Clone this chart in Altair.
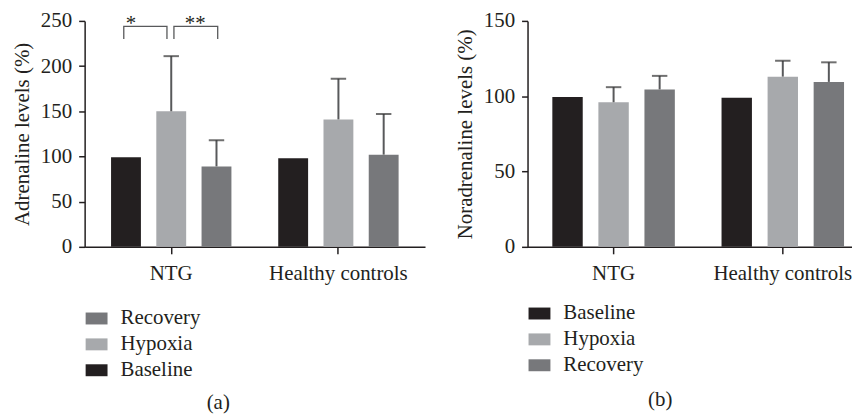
import altair as alt
import pandas as pd

# ---------------- data ----------------
groups = ["NTG", "Healthy controls"]
conditions = ["Baseline", "Hypoxia", "Recovery"]

row_group = ["NTG", "NTG", "NTG", "Healthy controls", "Healthy controls", "Healthy controls"]
row_cond = ["Baseline", "Hypoxia", "Recovery", "Baseline", "Hypoxia", "Recovery"]

adr_mean = [99, 150, 89, 98, 141, 102]
adr_err = [0, 61, 29, 0, 45, 45]

nor_mean = [99.5, 96, 104.5, 99, 113, 109.5]
nor_err = [0, 10, 9, 0, 10.5, 13]

# significance brackets (left panel)
br_id = ["b1", "b1", "b1", "b1", "b2", "b2", "b2", "b2"]
br_cond = ["Baseline", "Baseline", "Hypoxia", "Hypoxia", "Hypoxia", "Hypoxia", "Recovery", "Recovery"]
br_y = [230, 244, 244, 230, 230, 244, 244, 230]
br_order = [0, 1, 2, 3, 0, 1, 2, 3]
star_text = ["*", "**"]

colors = {"Baseline": "#231f20", "Hypoxia": "#a7a9ac", "Recovery": "#77787b"}
FONT = "Liberation Serif"
FS = 21
INK = "#231f20"
ERR = "#58595b"

rect_path = "M-1,-0.545H1V0.545H-1Z"


def make_df(means, errs):
    return pd.DataFrame({"group": row_group, "condition": row_cond,
                         "mean": means, "top": [m + e for m, e in zip(means, errs)],
                         "err": errs})


def offset_enc():
    return alt.XOffset("condition:N", sort=conditions,
                       scale=alt.Scale(domain=conditions, paddingInner=0.34, paddingOuter=0))


def panel(df, ymax, yvalues, ytitle, legend_domain, width, xscale, caption,
          legend_y, cap_offset, cap_dx, extra=None):
    height = 227
    x = alt.X("group:N", sort=groups, scale=xscale,
              axis=alt.Axis(title=None, labelAngle=0, tickSize=7, labelPadding=9,
                            domainColor=INK, tickColor=INK, domainWidth=1.5, tickWidth=1.5,
                            labelFont=FONT, labelFontSize=FS, labelColor=INK))
    xo = offset_enc()
    yscale = alt.Scale(domain=[0, ymax], nice=False)
    base = alt.Chart(df)
    bars = base.mark_bar().encode(
        x=x, xOffset=xo,
        y=alt.Y("mean:Q", scale=yscale,
                axis=alt.Axis(values=yvalues, title=ytitle, tickSize=6, labelPadding=7,
                              titlePadding=8, grid=False, domainColor=INK, tickColor=INK,
                              domainWidth=1.5, tickWidth=1.5, labelFont=FONT,
                              labelFontSize=FS, labelColor=INK, titleFont=FONT,
                              titleFontSize=FS, titleFontWeight="normal", titleColor=INK)),
        color=alt.Color("condition:N",
                        scale=alt.Scale(domain=legend_domain,
                                        range=[colors[c] for c in legend_domain]),
                        legend=alt.Legend(orient="none", legendX=1, legendY=legend_y,
                                          title=None, symbolType=rect_path, symbolSize=484,
                                          symbolStrokeWidth=0, labelFont=FONT,
                                          labelFontSize=FS, labelColor=INK, labelOffset=13,
                                          rowPadding=5, padding=0)),
    )
    errdf = df[df["err"] > 0]
    stems = alt.Chart(errdf).mark_rule(color=ERR, strokeWidth=2).encode(
        x=x, xOffset=offset_enc(), y=alt.Y("mean:Q", scale=yscale), y2="top:Q")
    caps = alt.Chart(errdf).mark_tick(color="#333333", size=15.5, thickness=2).encode(
        x=x, xOffset=offset_enc(), y=alt.Y("top:Q", scale=yscale))
    layers = [bars, stems, caps]
    if extra is not None:
        layers += extra(x, yscale)
    return alt.layer(*layers).resolve_scale(xOffset="independent").properties(
        width=width, height=height,
        title=alt.TitleParams(caption, orient="bottom", anchor="middle", frame="bounds",
                              offset=cap_offset, dx=cap_dx,
                              font=FONT, fontSize=FS, fontWeight="normal", color=INK))


def brackets(x, yscale):
    bdf = pd.DataFrame({"group": ["NTG"] * 8, "condition": br_cond, "y": br_y,
                        "bracket": br_id, "ord": br_order})
    # bracket ends sit slightly inside the bar centres, with a gap over the Hypoxia bar
    o1 = alt.XOffset("condition:N", sort=conditions,
                     scale=alt.Scale(domain=conditions, paddingInner=1,
                                     paddingOuter=0.394, align=0.374))
    o2 = alt.XOffset("condition:N", sort=conditions,
                     scale=alt.Scale(domain=conditions, paddingInner=1,
                                     paddingOuter=0.375, align=0.582))
    b1 = alt.Chart(bdf[bdf["bracket"] == "b1"]).mark_line(
        color=ERR, strokeWidth=1.3).encode(
        x=x, xOffset=o1, y=alt.Y("y:Q", scale=yscale), order="ord:Q")
    b2 = alt.Chart(bdf[bdf["bracket"] == "b2"]).mark_line(
        color=ERR, strokeWidth=1.3).encode(
        x=x, xOffset=o2, y=alt.Y("y:Q", scale=yscale), order="ord:Q")
    s1 = alt.Chart(pd.DataFrame({"group": ["NTG"], "condition": ["Baseline"],
                                 "y": [244], "t": [star_text[0]]})).mark_text(
        font=FONT, fontSize=FS, color=INK, baseline="alphabetic", dx=20, dy=4).encode(
        x=x, xOffset=offset_enc(), y=alt.Y("y:Q", scale=yscale), text="t:N")
    s2 = alt.Chart(pd.DataFrame({"group": ["NTG"], "condition": ["Hypoxia"],
                                 "y": [244], "t": [star_text[1]]})).mark_text(
        font=FONT, fontSize=FS, color=INK, baseline="alphabetic", dx=24, dy=4).encode(
        x=x, xOffset=offset_enc(), y=alt.Y("y:Q", scale=yscale), text="t:N")
    return [b1, b2, s1, s2]


left = panel(make_df(adr_mean, adr_err), 250, [0, 50, 100, 150, 200, 250],
             "Adrenaline levels (%)", ["Recovery", "Hypoxia", "Baseline"], 342,
             alt.Scale(paddingInner=0.28, paddingOuter=0.158), "(a)", 288, 12, 0, brackets)
right = panel(make_df(nor_mean, nor_err), 150, [0, 50, 100, 150],
              "Noradrenaline levels (%)", conditions, 326,
              alt.Scale(paddingInner=0.276, paddingOuter=0.0968, align=0.757), "(b)", 283,
              14, 7)

chart = alt.hconcat(left, right, spacing=29).resolve_scale(
    color="independent", x="independent", y="independent", xOffset="independent"
).resolve_legend(color="independent").properties(
    padding={"left": 3, "top": 1, "right": 0, "bottom": 0}
).configure_view(stroke=None)

chart.save("out.html", embed_options={"renderer": "svg", "actions": False})
